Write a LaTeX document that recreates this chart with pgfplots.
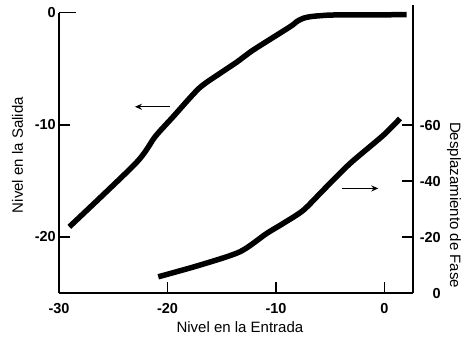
\documentclass[border=0pt]{standalone}
\usepackage{pgfplots}
\pgfplotsset{compat=1.18}
\usepackage{pgfplotstable}
\usepackage{fontspec}
\setmainfont{Liberation Sans}
\usetikzlibrary{arrows.meta}

\pgfplotstableread{
x y
-29.05 -19.1
-22.9 -13.4
-21.15 -11.07
-19.5 -9.3
-17.1 -6.75
-15.16 -5.41
-13.6 -4.4
-12.1 -3.33
-8.7 -1.25
-8.1 -0.8
-7.5 -0.5
-6.87 -0.36
-5.95 -0.27
-4.4 -0.2
2.04 -0.18
}\salida

\pgfplotstableread{
x y
-20.85 -5.8
-17.0 -10
-13.32 -14.75
-10.86 -21.3
-9.33 -24.9
-7.48 -29.6
-5.64 -36.8
-3.18 -46.3
-0.11 -56.4
1.43 -62.4
}\fase

\begin{document}
\begin{tikzpicture}
\path[use as bounding box] (0,0) rectangle (465pt,-337pt);
\pgfplotsset{
  common/.style={
    scale only axis,
    width=354pt,
    at={(59pt,-293pt)}, anchor=south west,
    xmin=-30, xmax=2.63,
    clip=false,
    tick align=inside,
    major tick length=11pt,
    every tick/.style={line width=1.5pt, black},
    axis line style={line width=1.6pt},
    /pgf/number format/assume math mode=true,
    ticklabel style={font=\fontsize{14.5}{16}\selectfont\bfseries, inner sep=0pt},
    label style={font=\fontsize{15}{18}\selectfont},
  }
}
\begin{axis}[common,
  height=280.3pt,
  ymin=-25, ymax=0,
  axis x line*=bottom, axis y line*=left,
  xtick={-30,-20,-10,0},
  ytick={-20,-10},
  extra y ticks={0},
  extra y tick style={major tick length=17pt},
  xticklabel style={anchor=north, yshift=-10pt},
  yticklabel style={anchor=east, xshift=-3pt},
  xlabel={Nivel en la Entrada},
  ylabel={Nivel en la Salida},
  xlabel style={at={(rel axis cs:0.511,-0.1416)}, anchor=base},
  ylabel style={at={(rel axis cs:-0.1017,0.492)}, anchor=base},
]
\addplot[black, line width=5.5pt, line join=round, smooth, tension=0.45] table[x=x,y=y] {\salida};
\draw[line width=1.3pt, -{Stealth[length=7pt,width=6pt]}] (axis cs:-19.77,-8.39) -- (axis cs:-23.0,-8.39);
\end{axis}
\begin{axis}[common,
  height=288pt,
  ymin=-103, ymax=0, y dir=reverse,
  axis x line=none, axis y line*=right,
  ytick={0,-20,-40,-60},
  yticklabel style={anchor=east, xshift=28pt},
  ylabel={Desplazamiento de Fase},
  ylabel style={rotate=180, at={(rel axis cs:1.105,0.3056)}, anchor=base},
]
\addplot[black, line width=5.5pt, line join=round, smooth, tension=0.45] table[x=x,y=y] {\fase};
\draw[line width=1.3pt, -{Stealth[length=7pt,width=6pt]}] (axis cs:-3.94,-37.4) -- (axis cs:-0.57,-37.4);
\end{axis}
\end{tikzpicture}
\end{document}
